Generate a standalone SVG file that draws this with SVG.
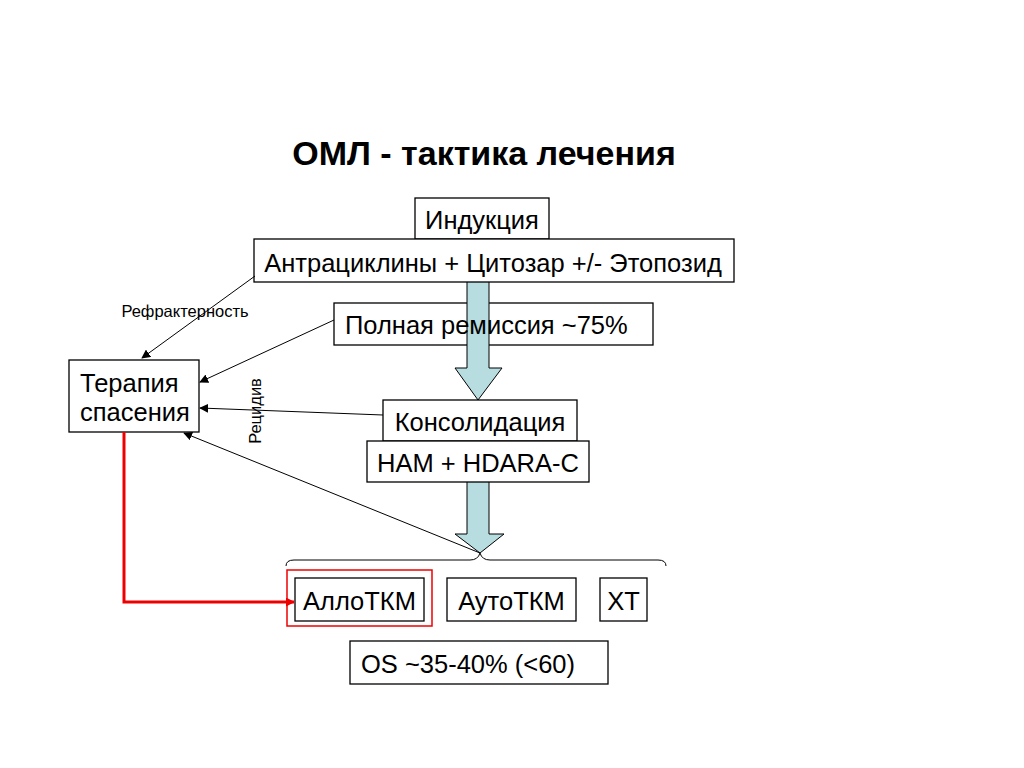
<svg xmlns="http://www.w3.org/2000/svg" width="1024" height="768" viewBox="0 0 1024 768">
<defs>
<style>
.box{fill:#fff;stroke:#000;stroke-width:1.3}
.t{font-family:"Liberation Sans",Arial,sans-serif;font-size:25.5px;fill:#000}
.s{font-family:"Liberation Sans",Arial,sans-serif;font-size:16.5px;fill:#000}
.c{stroke:#000;stroke-width:1;fill:none}
.big{fill:#b7dde1;stroke:#000;stroke-width:1}
</style>
<marker id="ah" viewBox="0 0 10 10" refX="9" refY="5" markerWidth="9" markerHeight="9" markerUnits="userSpaceOnUse" orient="auto">
<path d="M0,0 L10,5 L0,10 z" fill="#000"/>
</marker>
<marker id="ahr" viewBox="0 0 10 10" refX="9" refY="5" markerWidth="9" markerHeight="9" markerUnits="userSpaceOnUse" orient="auto">
<path d="M0,0 L10,5 L0,10 z" fill="#e00"/>
</marker>
</defs>
<rect width="1024" height="768" fill="#fff"/>
<text x="484" y="165" text-anchor="middle" style="font-family:'Liberation Sans',Arial,sans-serif;font-size:34px;font-weight:bold">ОМЛ - тактика лечения</text>

<g id="remission-box"><rect class="box" x="334" y="303" width="319" height="42"/></g>
<g id="arrow1"><path class="big" d="M467,279 H489 V368 H502 L478,400 L455,368 H467 Z"/></g>
<g id="arrow2"><path class="big" d="M467,480 H489 V534 H504 L480,553 L455,534 H467 Z"/></g>

<g id="induction"><rect class="box" x="415" y="198" width="134" height="41"/><text class="t" x="482" y="229" text-anchor="middle">Индукция</text></g>
<g id="antra"><rect class="box" x="254" y="239" width="480" height="43"/><text class="t" x="493" y="272" text-anchor="middle">Антрациклины + Цитозар +/- Этопозид</text></g>
<g id="remission"><text class="t" x="345" y="334">Полная ремиссия ~75%</text></g>
<g id="salvage"><rect class="box" x="69" y="360" width="130" height="72"/><text class="t" x="80" y="392">Терапия</text><text class="t" x="80" y="421">спасения</text></g>
<g id="consol"><rect class="box" x="383" y="400" width="194" height="41"/><text class="t" x="480" y="431" text-anchor="middle">Консолидация</text></g>
<g id="ham"><rect class="box" x="367" y="441" width="222" height="41"/><text class="t" x="478" y="472" text-anchor="middle">HAM + HDARA-C</text></g>
<g id="allo"><rect x="287" y="570" width="145" height="56" fill="none" stroke="#e00" stroke-width="1.5"/><rect class="box" x="295" y="578" width="129" height="43"/><text class="t" x="359.5" y="610" text-anchor="middle">АллоТКМ</text></g>
<g id="auto"><rect class="box" x="447" y="578" width="129" height="43"/><text class="t" x="511.5" y="610" text-anchor="middle">АутоТКМ</text></g>
<g id="xt"><rect class="box" x="600" y="578" width="47" height="43"/><text class="t" x="623.5" y="610" text-anchor="middle">XT</text></g>
<g id="os"><rect class="box" x="350" y="641" width="258" height="43"/><text class="t" x="361" y="673">OS ~35-40% (&lt;60)</text></g>

<g id="brace"><path class="c" d="M286,566 Q286,560 294,560 H470 Q478,560 480,553 Q482,560 490,560 H658 Q666,560 666,566"/></g>

<g id="connectors">
<line class="c" x1="255" y1="276" x2="142" y2="358" marker-end="url(#ah)"/>
<line class="c" x1="334" y1="320" x2="200" y2="382" marker-end="url(#ah)"/>
<line class="c" x1="383" y1="415" x2="200" y2="408" marker-end="url(#ah)"/>
<line class="c" x1="480" y1="553" x2="184" y2="433" marker-end="url(#ah)"/>
<path d="M124,432 V602 H294" fill="none" stroke="#e00" stroke-width="3" marker-end="url(#ahr)"/>
</g>
<text class="s" x="185" y="317" text-anchor="middle">Рефрактерность</text>
<text class="s" x="0" y="0" text-anchor="middle" transform="translate(261,411) rotate(-90)">Рецидив</text>
</svg>
